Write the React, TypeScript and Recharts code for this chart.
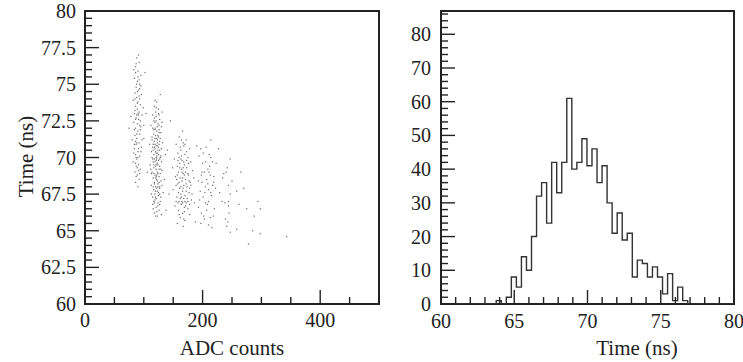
import React from 'react';
import { ScatterChart, Scatter, XAxis, YAxis, ReferenceArea, LineChart, Line, Label } from 'recharts';

const FONT = '"Liberation Serif", "Times New Roman", serif';
const INK = '#222';

// ---------- Left panel: scatter (ADC counts vs Time) ----------
const bandA: [number, number][] = [
  [88,76.8],[92,76.5],[86,76.2],[90,75.9],[95,75.6],[84,75.4],[89,75.2],[93,75.0],[87,74.8],[91,74.6],
  [85,74.4],[96,74.3],[88,74.1],[82,73.9],[90,73.8],[94,73.6],[86,73.5],[89,73.3],[92,73.1],[84,73.0],
  [97,72.9],[87,72.7],[91,72.6],[83,72.4],[89,72.3],[95,72.1],[86,72.0],[90,71.8],[93,71.6],[85,71.5],
  [88,71.3],[80,71.2],[92,71.0],[87,70.9],[96,70.7],[84,70.6],[90,70.4],[86,70.2],[93,70.1],[88,69.9],
  [82,69.7],[91,69.5],[87,69.4],[94,69.2],[85,69.0],[89,68.8],[92,68.5],[86,68.3],[90,68.0],[95,74.9],
  [83,76.0],[99,73.4],[91,77.0],[86,75.8],[93,74.0],[88,72.9],[84,71.9],[97,71.2],[90,70.0],[86,69.6],
  [92,75.3],[89,74.5],[85,73.2],[94,72.5],[88,71.0],[91,69.1],[87,68.7],[100,72.2],[78,72.8],[95,70.4],
  [87,76.4],[90,75.5],[93,74.7],[85,74.0],[89,73.7],[91,72.9],[86,72.6],[93,72.2],[88,71.6],[84,70.9],
  [91,70.6],[87,70.0],[89,69.3],[93,68.9],[86,71.1],[90,73.0],[88,75.0],[94,71.9],[83,70.3],[92,74.2],
];
const bandB: [number, number][] = [
  [128,74.3],[122,73.8],[118,73.5],[125,73.3],[131,73.1],[115,72.9],[121,72.8],[127,72.6],[119,72.4],[124,72.3],
  [112,72.2],[130,72.1],[117,71.9],[122,71.8],[126,71.7],[120,71.5],[114,71.4],[128,71.3],[123,71.2],[118,71.1],
  [132,71.0],[116,70.9],[121,70.8],[125,70.7],[119,70.6],[127,70.5],[113,70.4],[123,70.3],[117,70.2],[129,70.1],
  [121,70.0],[115,69.9],[125,69.8],[119,69.7],[123,69.6],[111,69.5],[127,69.4],[117,69.3],[121,69.2],[131,69.1],
  [114,69.0],[124,68.9],[119,68.8],[126,68.7],[116,68.6],[122,68.5],[129,68.4],[118,68.3],[124,68.2],[113,68.1],
  [120,68.0],[127,67.9],[117,67.8],[123,67.7],[133,67.6],[119,67.5],[125,67.4],[115,67.3],[121,67.2],[128,67.0],
  [118,66.9],[124,66.7],[116,66.5],[122,66.3],[130,66.1],[120,66.0],[135,68.5],[137,70.2],[110,70.9],[126,72.9],
  [120,73.1],[123,71.0],[118,69.9],[126,69.2],[122,68.8],[119,67.1],[127,68.0],[114,70.0],[130,69.7],[124,70.5],
  [117,71.6],[121,72.5],[128,70.0],[116,68.0],[123,69.0],[120,70.4],[125,71.4],[119,71.9],[113,68.9],[129,67.3],
  [122,67.9],[118,70.7],[126,68.3],[124,66.9],[117,69.5],[131,72.4],[121,69.8],[115,72.0],[127,71.1],[120,68.6],
  [119,72.0],[124,71.5],[116,70.5],[127,69.9],[121,68.7],[118,68.2],[125,67.6],[122,70.1],[120,69.4],[126,70.9],
  [114,71.2],[123,68.4],[128,68.9],[117,67.0],[121,66.6],[125,73.0],[119,73.9],[112,69.2],[130,70.6],[124,69.5],
  [118,72.7],[122,71.3],[127,67.5],[115,66.8],[120,67.7],[123,72.1],[126,66.4],[116,69.7],[121,70.3],[129,71.7],
  [121,73.4],[126,72.2],[117,72.5],[123,70.8],[119,70.9],[125,70.2],[121,69.5],[117,68.9],[124,68.0],[120,67.3],
  [127,66.8],[118,66.2],[123,66.0],[115,70.7],[129,69.2],[122,69.9],[126,71.9],[119,71.3],[113,67.5],[131,68.1],
];
const bandC: [number, number][] = [
  [166,71.8],[160,71.4],[172,71.2],[155,70.9],[168,70.8],[178,70.6],[163,70.5],[158,70.3],[170,70.2],[175,70.0],
  [152,69.9],[165,69.8],[180,69.7],[161,69.6],[169,69.5],[157,69.4],[173,69.3],[164,69.2],[183,69.1],[159,69.0],
  [167,68.9],[176,68.8],[154,68.7],[162,68.6],[171,68.5],[165,68.4],[179,68.3],[158,68.2],[168,68.1],[174,68.0],
  [161,67.9],[150,67.8],[166,67.7],[177,67.6],[163,67.5],[170,67.4],[156,67.3],[168,67.2],[181,67.1],[160,67.0],
  [172,66.9],[164,66.8],[153,66.7],[169,66.6],[175,66.5],[159,66.4],[166,66.2],[178,66.1],[162,65.9],[170,65.7],
  [157,65.5],[167,65.3],[185,68.6],[186,66.9],[149,69.3],[164,70.1],[171,69.0],[160,68.3],[167,67.9],[174,67.2],
  [163,69.9],[158,66.9],[176,69.6],[165,67.0],[169,68.8],[155,68.1],[172,67.7],[162,70.7],[178,66.8],[167,71.0],
  [163,68.0],[168,69.7],[172,68.2],[159,67.6],[166,66.9],[175,68.9],[161,69.3],[170,67.0],[156,68.5],[178,67.9],
  [165,69.0],[169,66.3],[162,67.2],[173,70.4],[158,69.8],[180,68.1],
  [164,71.2],[170,70.9],[160,70.0],[173,69.8],[167,69.3],[157,68.8],[177,68.4],[164,67.3],[171,66.7],[160,66.1],
  [168,65.8],[175,67.0],[155,67.0],[182,67.5],[166,68.6],
];
const bandD: [number, number][] = [
  [214,71.2],[197,70.6],[211,70.2],[194,70.1],[205,69.7],[217,69.7],[223,69.6],[200,69.6],[209,69.2],[203,69.0],
  [213,68.8],[219,68.7],[193,68.4],[199,68.3],[207,68.5],[217,68.1],[210,67.8],[196,67.7],[222,67.9],[201,67.3],
  [210,67.0],[215,67.4],[193,66.6],[207,66.4],[198,66.2],[203,65.8],[213,65.9],[197,65.5],[210,65.4],[216,65.2],
  [205,68.0],[212,69.4],[201,70.3],[219,68.3],[195,67.1],[208,66.8],[204,67.6],[220,66.5],[214,70.0],[199,69.0],
  [206,70.7],[211,69.0],[198,68.8],[214,67.6],[205,66.9],[218,66.0],[202,66.0],[209,68.2],
];
const bandE: [number, number][] = [
  [247,69.9],[242,69.3],[234,68.6],[244,68.1],[247,67.5],[233,67.0],[244,67.0],[244,66.7],[239,65.8],[241,65.3],
  [247,64.9],[258,65.1],[258,67.7],[236,68.9],[229,67.6],[245,66.2],[240,69.0],[238,66.9],[250,68.4],[243,65.6],
];
const sparse: [number, number][] = [
  [275,66.5],[298,66.5],[294,67.0],[285,65.0],[298,64.8],[343,64.6],[278,64.1],[270,67.9],[288,66.0],[262,66.8],
  [100,71.3],[104,73.0],[106,69.0],[140,70.5],[143,67.5],[145,72.5],[138,66.4],[190,70.8],[188,65.6],[227,70.6],
  [265,69.0],[102,75.8],[75,72.0],
];
const scatterPoints = [...bandA, ...bandB, ...bandC, ...bandD, ...bandE, ...sparse].map(([adc, t]) => ({ adc, t }));

const adcMajor = [0, 200, 400];
const adcTicks = [0, 50, 100, 150, 200, 250, 300, 350, 400, 450, 500];
const timeMajor = [60, 62.5, 65, 67.5, 70, 72.5, 75, 77.5, 80];
const timeTicks = Array.from({ length: 41 }, (_, i) => 60 + i * 0.5);

// ---------- Right panel: histogram of Time ----------
const histLow = 63.77;
const histBinWidth = 0.344;
const histCounts = [
  1, 0, 2, 8, 5, 14, 10, 20, 32, 36, 24, 42, 33, 42, 61, 40, 42, 49, 41, 46,
  36, 41, 30, 21, 27, 19, 21, 8, 13, 12, 8, 11, 8, 3, 9, 1, 5, 1,
];
const histTimeMajor = [60, 65, 70, 75, 80];
const histTimeTicks = Array.from({ length: 21 }, (_, i) => 60 + i);
const countMajor = [0, 10, 20, 30, 40, 50, 60, 70, 80];
const countTicks = Array.from({ length: 44 }, (_, i) => i * 2);

const histData = [
  { t: 60, c: 0 },
  { t: histLow, c: 0 },
  ...histCounts.map((c, i) => ({ t: histLow + i * histBinWidth, c })),
  { t: histLow + histCounts.length * histBinWidth, c: 0 },
  { t: 80, c: 0 },
];

const isIn = (arr: number[], v: number) => arr.some((m) => Math.abs(m - v) < 1e-6);

const makeTick = (side: 'left' | 'bottom', majors: number[], gap: number, dyBottom: number) => (props: any) => {
  const { x, y, payload } = props;
  const v = payload.value;
  const major = isIn(majors, v);
  const len = major ? 14 : 7;
  if (side === 'left') {
    return (
      <g>
        <line x1={x} y1={y} x2={x + len} y2={y} stroke={INK} strokeWidth={1.4} />
        {major && (
          <text x={x - gap} y={y} dy="0.35em" textAnchor="end" fontFamily={FONT} fontSize={20} fill={INK}>
            {String(v)}
          </text>
        )}
      </g>
    );
  }
  return (
    <g>
      <line x1={x} y1={y} x2={x} y2={y - len} stroke={INK} strokeWidth={1.4} />
      {major && (
        <text x={x} y={y + dyBottom} textAnchor="middle" fontFamily={FONT} fontSize={20} fill={INK}>
          {String(v)}
        </text>
      )}
    </g>
  );
};

const Dot = (props: any) => {
  const { cx, cy } = props;
  if (cx == null || cy == null) return null;
  return <rect x={cx - 0.6} y={cy - 0.6} width={1.2} height={1.2} fill="#6a6a6a" />;
};

const LeftYTitle = (props: any) => {
  const vb = props.viewBox || { x: 0, y: 0, width: 0, height: 0 };
  const cx = vb.x + 33;
  const cy = vb.y + vb.height / 2 - 1;
  return (
    <text x={cx} y={cy} transform={`rotate(-90 ${cx} ${cy})`} textAnchor="middle" fontFamily={FONT} fontSize={21} fill={INK}>
      Time (ns)
    </text>
  );
};

const LeftXTitle = (props: any) => {
  const vb = props.viewBox || { x: 0, y: 0, width: 0, height: 0 };
  return (
    <text x={vb.x + vb.width / 2} y={vb.y + 51} textAnchor="middle" fontFamily={FONT} fontSize={21} fill={INK}>
      ADC counts
    </text>
  );
};

const RightXTitle = (props: any) => {
  const vb = props.viewBox || { x: 0, y: 0, width: 0, height: 0 };
  return (
    <text x={vb.x + 196} y={vb.y + 51} textAnchor="middle" fontFamily={FONT} fontSize={21} fill={INK}>
      Time (ns)
    </text>
  );
};

export default function App() {
  return (
    <div style={{ position: 'absolute', left: 0, top: 0, width: 743, height: 362, background: '#fff', overflow: 'hidden' }}>
      <div style={{ position: 'absolute', left: 0, top: 0 }}>
        <ScatterChart width={390} height={362} margin={{ top: 11, right: 11, bottom: 0, left: 0 }}>
          <XAxis
            dataKey="adc"
            type="number"
            domain={[0, 500]}
            ticks={adcTicks}
            interval={0}
            height={58}
            axisLine={false}
            tickLine={false}
            tickSize={0}
            tickMargin={0}
            tick={makeTick('bottom', adcMajor, 0, 23)}
          >
            <Label content={LeftXTitle} />
          </XAxis>
          <YAxis
            dataKey="t"
            type="number"
            domain={[60, 80]}
            ticks={timeTicks}
            interval={0}
            width={85}
            axisLine={false}
            tickLine={false}
            tickSize={0}
            tickMargin={0}
            tick={makeTick('left', timeMajor, 9, 0)}
          >
            <Label content={LeftYTitle} />
          </YAxis>
          <ReferenceArea x1={0} x2={500} y1={60} y2={80} fill="none" stroke={INK} strokeWidth={2} />
          <Scatter data={scatterPoints} shape={Dot} isAnimationActive={false} />
        </ScatterChart>
      </div>
      <div style={{ position: 'absolute', left: 390, top: 0 }}>
        <LineChart width={353} height={362} data={histData} margin={{ top: 11, right: 9, bottom: 0, left: 0 }}>
          <XAxis
            dataKey="t"
            type="number"
            domain={[60, 80]}
            ticks={histTimeTicks}
            interval={0}
            height={58}
            axisLine={false}
            tickLine={false}
            tickSize={0}
            tickMargin={0}
            tick={makeTick('bottom', histTimeMajor, 0, 23.5)}
          >
            <Label content={RightXTitle} />
          </XAxis>
          <YAxis
            type="number"
            domain={[0, 86.9]}
            ticks={countTicks}
            interval={0}
            width={51}
            axisLine={false}
            tickLine={false}
            tickSize={0}
            tickMargin={0}
            allowDataOverflow
            tick={makeTick('left', countMajor, 10, 0)}
          />
          <ReferenceArea x1={60} x2={80} y1={0} y2={86.9} fill="none" stroke={INK} strokeWidth={2} />
          <Line type="stepAfter" dataKey="c" stroke="#333" strokeWidth={1.4} dot={false} isAnimationActive={false} />
        </LineChart>
      </div>
    </div>
  );
}
